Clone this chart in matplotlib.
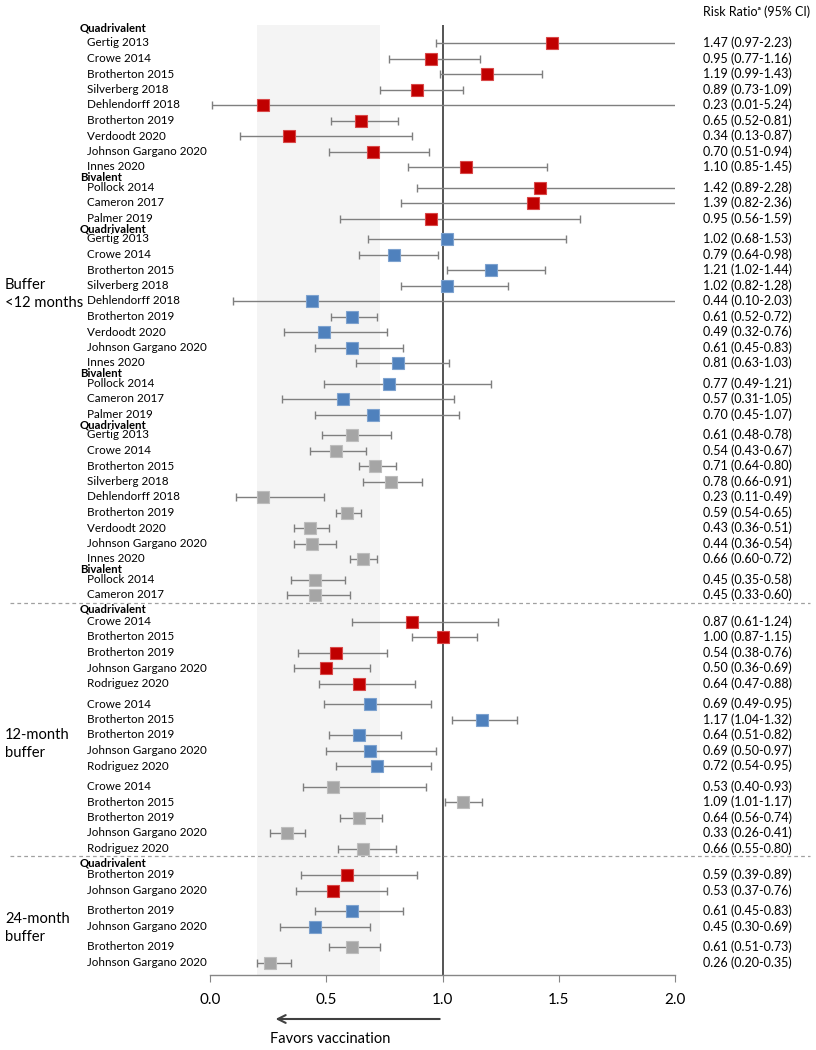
import matplotlib
matplotlib.use("Agg")
import matplotlib.pyplot as plt
from matplotlib.transforms import blended_transform_factory

# ---------------- data ----------------
buffer_labels = ["Buffer\n<12 months", "12-month\nbuffer", "24-month\nbuffer"]
vaccine_names = {"Q": "Quadrivalent", "B": "Bivalent"}

study = [
    # buffer <12 months, series 0
    "Gertig 2013", "Crowe 2014", "Brotherton 2015", "Silverberg 2018", "Dehlendorff 2018",
    "Brotherton 2019", "Verdoodt 2020", "Johnson Gargano 2020", "Innes 2020",
    "Pollock 2014", "Cameron 2017", "Palmer 2019",
    # series 1
    "Gertig 2013", "Crowe 2014", "Brotherton 2015", "Silverberg 2018", "Dehlendorff 2018",
    "Brotherton 2019", "Verdoodt 2020", "Johnson Gargano 2020", "Innes 2020",
    "Pollock 2014", "Cameron 2017", "Palmer 2019",
    # series 2
    "Gertig 2013", "Crowe 2014", "Brotherton 2015", "Silverberg 2018", "Dehlendorff 2018",
    "Brotherton 2019", "Verdoodt 2020", "Johnson Gargano 2020", "Innes 2020",
    "Pollock 2014", "Cameron 2017",
    # 12-month buffer
    "Crowe 2014", "Brotherton 2015", "Brotherton 2019", "Johnson Gargano 2020", "Rodriguez 2020",
    "Crowe 2014", "Brotherton 2015", "Brotherton 2019", "Johnson Gargano 2020", "Rodriguez 2020",
    "Crowe 2014", "Brotherton 2015", "Brotherton 2019", "Johnson Gargano 2020", "Rodriguez 2020",
    # 24-month buffer
    "Brotherton 2019", "Johnson Gargano 2020",
    "Brotherton 2019", "Johnson Gargano 2020",
    "Brotherton 2019", "Johnson Gargano 2020",
]
buffer = [0] * 35 + [1] * 15 + [2] * 6
series = ([0] * 12 + [1] * 12 + [2] * 11 +
          [0] * 5 + [1] * 5 + [2] * 5 +
          [0] * 2 + [1] * 2 + [2] * 2)
vaccine = (["Q"] * 9 + ["B"] * 3 + ["Q"] * 9 + ["B"] * 3 + ["Q"] * 9 + ["B"] * 2 +
           ["Q"] * 15 + ["Q"] * 6)
rr = [1.47, 0.95, 1.19, 0.89, 0.23, 0.65, 0.34, 0.70, 1.10, 1.42, 1.39, 0.95,
      1.02, 0.79, 1.21, 1.02, 0.44, 0.61, 0.49, 0.61, 0.81, 0.77, 0.57, 0.70,
      0.61, 0.54, 0.71, 0.78, 0.23, 0.59, 0.43, 0.44, 0.66, 0.45, 0.45,
      0.87, 1.00, 0.54, 0.50, 0.64,
      0.69, 1.17, 0.64, 0.69, 0.72,
      0.53, 1.09, 0.64, 0.33, 0.66,
      0.59, 0.53, 0.61, 0.45, 0.61, 0.26]
lo = [0.97, 0.77, 0.99, 0.73, 0.01, 0.52, 0.13, 0.51, 0.85, 0.89, 0.82, 0.56,
      0.68, 0.64, 1.02, 0.82, 0.10, 0.52, 0.32, 0.45, 0.63, 0.49, 0.31, 0.45,
      0.48, 0.43, 0.64, 0.66, 0.11, 0.54, 0.36, 0.36, 0.60, 0.35, 0.33,
      0.61, 0.87, 0.38, 0.36, 0.47,
      0.49, 1.04, 0.51, 0.50, 0.54,
      0.40, 1.01, 0.56, 0.26, 0.55,
      0.39, 0.37, 0.45, 0.30, 0.51, 0.20]
hi = [2.23, 1.16, 1.43, 1.09, 5.24, 0.81, 0.87, 0.94, 1.45, 2.28, 2.36, 1.59,
      1.53, 0.98, 1.44, 1.28, 2.03, 0.72, 0.76, 0.83, 1.03, 1.21, 1.05, 1.07,
      0.78, 0.67, 0.80, 0.91, 0.49, 0.65, 0.51, 0.54, 0.72, 0.58, 0.60,
      1.24, 1.15, 0.76, 0.69, 0.88,
      0.95, 1.32, 0.82, 0.97, 0.95,
      0.93, 1.17, 0.74, 0.41, 0.80,
      0.89, 0.76, 0.83, 0.69, 0.73, 0.35]
x_ticks = [0.0, 0.5, 1.0, 1.5, 2.0]
x_tick_labels = ["0.0", "0.5", "1.0", "1.5", "2.0"]
band = (0.2, 0.73)

# ---------------- style / layout ----------------
W, H = 816, 1050
FONT = ["Lato", "DejaVu Sans"]
plt.rcParams["font.family"] = FONT
series_colors = ["#C00000", "#4F81BD", "#A5A5A5"]
series_edges = ["#D84848", "#7DA2CF", "#BDBDBD"]
ci_color = "#7F7F7F"
FS_NAME = 8.4
FS_VAL = 9.0
FS_HEAD = 8.2

STEP, GAP, HEAD_OFF = 15.5, 20.5, 10.5
TOP_HEAD, FIRST_STEP = 28.0, 15.0
SEP_OFF, SEP_TO_HEAD, HEAD_TO_STUDY = 7.5, 7.0, 12.0
AXIS_Y = 975.0
buffer_label_y = [294, 744, 928]

ypos, headers, seps = [], [], []
cur = None
for i in range(len(study)):
    if i == 0:
        headers.append((TOP_HEAD, vaccine_names[vaccine[0]]))
        cur = TOP_HEAD + FIRST_STEP
    elif buffer[i] != buffer[i - 1]:
        s = cur + SEP_OFF
        seps.append(s)
        h = s + SEP_TO_HEAD
        headers.append((h, vaccine_names[vaccine[i]]))
        cur = h + HEAD_TO_STUDY
    elif vaccine[i] != vaccine[i - 1] or series[i] != series[i - 1]:
        if vaccine[i] != vaccine[i - 1]:
            headers.append((cur + HEAD_OFF, vaccine_names[vaccine[i]]))
        cur = cur + GAP
    else:
        cur = cur + STEP
    ypos.append(cur)

fig = plt.figure(figsize=(W / 100, H / 100), dpi=100)
ax_left, ax_right = 210 / W, 675 / W
ax = fig.add_axes([ax_left, 1 - AXIS_Y / H, ax_right - ax_left, AXIS_Y / H])
ax.set_xlim(0, 2)
ax.set_ylim(AXIS_Y, 0)
for side in ["top", "left", "right"]:
    ax.spines[side].set_visible(False)
ax.spines["bottom"].set_color("#868686")
ax.spines["bottom"].set_linewidth(1.0)
ax.set_yticks([])
ax.set_xticks(x_ticks)
ax.set_xticklabels(x_tick_labels)
ax.tick_params(axis="x", direction="out", length=5, color="#868686",
               labelsize=11, labelcolor="#000000", pad=8)
ax.patch.set_alpha(0)

# shaded band and reference line
ax.fill_betweenx([25, AXIS_Y], band[0], band[1], color="#F4F4F4", zorder=0, lw=0)
ax.vlines(1.0, 25, AXIS_Y, color="#262626", lw=1.1, zorder=2)

# CIs and markers
xmin, xmax = 0.0, 2.0
for i in range(len(study)):
    y = ypos[i]
    a, b = max(lo[i], xmin), min(hi[i], xmax)
    ax.hlines(y, a, b, color=ci_color, lw=1.0, zorder=3)
    caps = [v for v in (lo[i], hi[i]) if xmin <= v <= xmax]
    ax.plot(caps, [y] * len(caps), ls="none", marker="|", ms=6, mew=1.0,
            color=ci_color, zorder=3)
    ax.plot([rr[i]], [y], ls="none", marker="s", ms=8.5,
            mfc=series_colors[series[i]], mec=series_edges[series[i]], mew=0.8, zorder=4)

# texts
tr = blended_transform_factory(fig.transFigure, ax.transData)
for i in range(len(study)):
    y = ypos[i]
    ax.text(87 / W, y, study[i], transform=tr, fontsize=FS_NAME, va="center", ha="left",
            clip_on=False)
    ax.text(703 / W, y, f"{rr[i]:.2f} ({lo[i]:.2f}-{hi[i]:.2f})", transform=tr,
            fontsize=FS_VAL, va="center", ha="left", clip_on=False)
for (y, t) in headers:
    ax.text(80 / W, y, t, transform=tr, fontsize=FS_HEAD, fontweight="bold",
            va="center", ha="left", clip_on=False)
for i, lab in enumerate(buffer_labels):
    ax.text(5 / W, buffer_label_y[i], lab, transform=tr, fontsize=10.6,
            va="center", ha="left", linespacing=1.3, clip_on=False)
for s in seps:
    ax.plot([10 / W, 810 / W], [s, s], transform=tr, color="#A0A0A0", lw=0.9,
            ls=(0, (3, 2.5)), clip_on=False)

ax.text(703 / W, 12, "Risk Ratio\u1d43 (95% CI)", transform=tr, fontsize=9,
        va="center", ha="left", clip_on=False, family=FONT)

# favors vaccination arrow
ax.annotate("", xy=(0.27, 1019), xytext=(1.0, 1019), xycoords="data",
            arrowprops=dict(arrowstyle="->", color="#404040", lw=1.5,
                            mutation_scale=14),
            annotation_clip=False)
ax.text(0.515, 1039, "Favors vaccination", fontsize=10.5, ha="center", va="center",
        clip_on=False)

fig.savefig("out.png", dpi=100)
